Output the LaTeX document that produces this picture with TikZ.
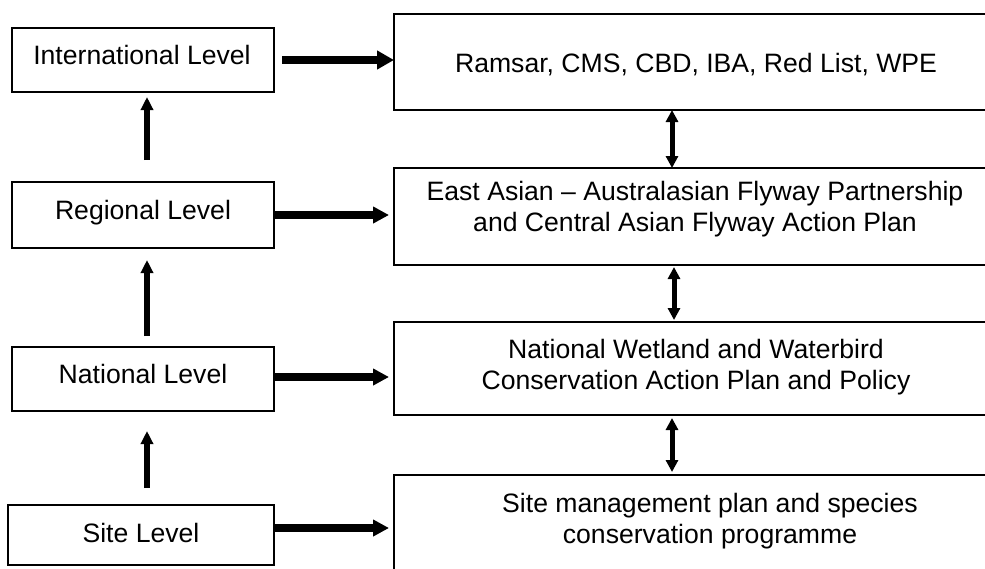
\documentclass[tikz,border=0pt]{standalone}
\usepackage{fontspec}
\setmainfont{Liberation Sans}
\usetikzlibrary{arrows.meta}
\begin{document}
\begin{tikzpicture}[x=1pt,y=-1pt,
  box/.style={draw=black,line width=2pt,rectangle,inner sep=0pt,outer sep=0pt},
  lbl/.style={anchor=base,inner sep=0pt,align=center,font=\fontsize{26.6}{31}\selectfont},
  harrow/.style={line width=8pt,-{Triangle[length=16pt,width=16pt]}},
  harrowbig/.style={line width=8pt,-{Triangle[length=17pt,width=18pt]}},
  varrow/.style={line width=6pt,-{Triangle[length=13pt,width=12pt]}},
  darrow/.style={line width=5pt,{Triangle[length=12pt,width=12pt]}-{Triangle[length=12pt,width=12pt]}}
]
\useasboundingbox (0,0) rectangle (985,568);
\clip (0,0) rectangle (985,568);
\fill[white] (0,0) rectangle (985,568);

% left boxes
\node[box,minimum width=262pt,minimum height=64pt] (intl) at (143,60) {};
\node[box,minimum width=262pt,minimum height=66pt] (reg) at (143,215) {};
\node[box,minimum width=262pt,minimum height=64pt] (nat) at (143,379) {};
\node[box,minimum width=266pt,minimum height=60pt] (site) at (141,535) {};

\node[lbl] (intlt) at (142,64) {International Level};
\node[lbl] (regt) at (143,219) {Regional Level};
\node[lbl] (natt) at (143,383) {National Level};
\node[lbl] (sitet) at (141,542) {Site Level};

% right boxes
\node[box,minimum width=606pt,minimum height=96pt] (r1) at (697,62) {};
\node[box,minimum width=606pt,minimum height=97pt] (r2) at (697,216.5) {};
\node[box,minimum width=606pt,minimum height=93pt] (r3) at (697,368.5) {};
\node[box,minimum width=606pt,minimum height=110pt] (r4) at (697,530) {};

\node[lbl] (r1t) at (696,72) {Ramsar, CMS, CBD, IBA, Red List, WPE};
\node[lbl] (r2t) at (695,231) {East Asian – Australasian Flyway Partnership\\and Central Asian Flyway Action Plan};
\node[lbl] (r3t) at (696,389) {National Wetland and Waterbird\\Conservation Action Plan and Policy};
\node[lbl] (r4t) at (710,543) {Site management plan and species\\conservation programme};

% horizontal arrows
\draw[harrowbig,shorten <=8pt] (intl.east) -- (intl.east -| r1.west);
\draw[harrow,shorten >=5pt] (reg.east) -- (reg.east -| r2.west);
\draw[harrow,shorten >=5pt] ([yshift=2pt]nat.east) -- ([yshift=2pt]nat.east -| r3.west);
\draw[harrow,shorten >=5pt] ([yshift=7pt]site.east) -- ([yshift=7pt]site.east -| r4.west);

% vertical arrows
\draw[varrow,shorten <=22pt,shorten >=5pt] ([xshift=4pt]reg.north) -- ([xshift=4pt]intl.south);
\draw[varrow,shorten <=11pt,shorten >=12pt] ([xshift=4pt]nat.north) -- ([xshift=4pt]reg.south);
\draw[varrow,shorten <=17pt,shorten >=20pt] ([xshift=6pt]site.north) -- ([xshift=4pt]nat.south);

% double arrows
\draw[darrow] ([xshift=-25pt]r1.south) -- ([xshift=-25pt]r2.north);
\draw[darrow,shorten <=2pt,shorten >=2pt] ([xshift=-23pt]r2.south) -- ([xshift=-23pt]r3.north);
\draw[darrow,shorten <=3pt,shorten >=3pt] ([xshift=-25pt]r3.south) -- ([xshift=-25pt]r4.north);
\end{tikzpicture}
\end{document}
